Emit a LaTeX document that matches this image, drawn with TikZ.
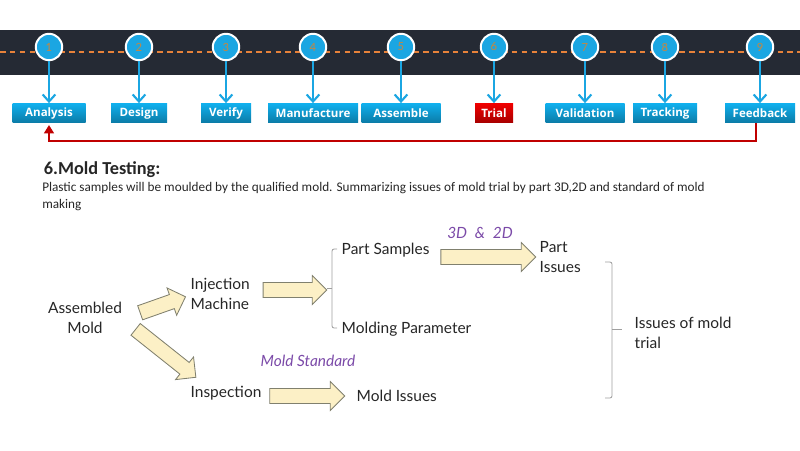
\documentclass[tikz,border=0pt]{standalone}
\usepackage{fontspec}
\setmainfont{Lato}
\newfontfamily\boxfont{Open Sans}
\newfontfamily\bodyfont{Carlito}
\usetikzlibrary{shapes.arrows, arrows.meta, calc, positioning}

\definecolor{bandgray}{HTML}{252A34}
\definecolor{dashorange}{HTML}{E8823A}
\definecolor{stepblue}{HTML}{1BA6E2}
\definecolor{boxblue}{HTML}{10B0EE}
\definecolor{boxred}{HTML}{F00000}
\definecolor{digit}{HTML}{C8873E}
\definecolor{fbred}{HTML}{C00000}
\definecolor{darktext}{HTML}{262626}
\definecolor{notepurple}{HTML}{7B4AA8}
\definecolor{cream}{HTML}{FCF0C6}
\definecolor{arrowline}{HTML}{80806E}

% block arrow from one point to another
\newcommand{\blockarrow}[2]{%
  \path let \p1=(#1), \p2=(#2), \n1={veclen(\x2-\x1,\y2-\y1)} in
    (#1) -- node[bigarrow, sloped, minimum height=\n1] {} (#2);}

\begin{document}
\begin{tikzpicture}[x=0.025cm, y=-0.025cm,
    stepcircle/.style={circle, fill=stepblue, draw=white, line width=1.4pt,
      minimum size=0.66cm, inner sep=0pt, text=digit, font=\fontsize{8}{8}\selectfont},
    stepbox/.style={rectangle, minimum height=0.48cm, inner sep=0pt, text=white,
      font=\boxfont\bfseries\fontsize{8.2}{8.2}\selectfont},
    stepline/.style={draw=stepblue, line width=1.5pt, -{Straight Barb[length=5pt,width=9pt]}},
    feedback/.style={draw=fbred, line width=1.6pt, -{Triangle[length=6pt,width=7pt]}},
    txt/.style={font=\fontsize{11}{14}\selectfont, text=darktext, inner sep=1pt},
    remark/.style={font=\itshape\fontsize{11}{11}\selectfont, text=notepurple},
    brace/.style={draw=gray!75, line width=0.6pt, rounded corners=1.5pt},
    bigarrow/.style={single arrow, draw=arrowline, fill=cream, line width=0.6pt,
      inner sep=0pt, inner ysep=5pt, single arrow head extend=5pt}
]
    \useasboundingbox (0,0) rectangle (800,450);

    % Top band with the process steps
    \fill[bandgray] (0,30) rectangle (800,75);
    \draw[dashorange, line width=1pt, dash pattern=on 4pt off 3pt] (0,52) -- (800,52);

    \foreach \n/\x/\w/\lbl/\col in {1/49/73/Analysis/boxblue, 2/139/56/Design/boxblue,
        3/226/50/Verify/boxblue, 4/313/90/Manufacture/boxblue, 5/401/79/Assemble/boxblue,
        6/494/38/Trial/boxred, 7/585/79/Validation/boxblue, 8/665/64/Tracking/boxblue,
        9/760/70/Feedback/boxblue} {
        \node[stepcircle] (c\n) at (\x,47) {\n};
        \node[stepbox, minimum width=\w*0.025cm, top color=\col, bottom color=\col!70!black]
            (b\n) at (\x,113) {\lbl};
        \draw[stepline] (c\n) -- (b\n);
    }

    % Feedback loop
    \draw[feedback] ([xshift=-3pt]b9.south) -- ++(0,18) -| ([yshift=-1.5pt]b1.south);

    % Heading and description
    \node[anchor=west, text=darktext, font=\bodyfont\bfseries\fontsize{13}{13}\selectfont]
        (title) at (39,170) {6.Mold Testing:};
    \node[anchor=north west, align=left, inner sep=0pt, text=darktext,
        font=\bodyfont\fontsize{9.4}{12}\selectfont] (desc) at (42,182)
        {Plastic samples will be moulded by the qualified mold. Summarizing issues of mold trial by part 3D,2D and standard of mold\\making};

    % Flow of the mold trial
    \node[txt, align=center] (asm) at (85,318) {Assembled\\Mold};
    \node[txt, align=left, anchor=west] (inj) at (189,294) {Injection\\Machine};
    \node[txt, anchor=west] (ps) at (340,250) {Part Samples};
    \node[txt, anchor=west] (mp) at (340,329) {Molding Parameter};
    \node[txt, align=left, anchor=west] (pi) at (538,257) {Part\\Issues};
    \node[txt, align=left, anchor=west] (iot) at (633,333) {Issues of mold\\trial};
    \node[txt, anchor=west] (insp) at (189,393) {Inspection};
    \node[txt, anchor=west] (mi) at (355,396) {Mold Issues};
    \node[remark] (dd) at (480,233) {3D\hspace{5.5pt}\&\hspace{5.5pt}2D};
    \node[remark] (ms) at (308,361) {Mold Standard};

    \blockarrow{$(asm.east)+(13,-4)$}{$(inj.west)+(-7,4)$}
    \blockarrow{$(asm.east)+(9,9)$}{$(insp.west)+(4,-18)$}
    \blockarrow{$(inj.east)+(8,-4)$}{$(inj.east -| ps.west)+(-17,-4)$}
    \blockarrow{$(ps.east)+(6,7)$}{$(pi.west)+(-6,0)$}
    \blockarrow{$(insp.east)+(3,3)$}{$(mi.west)+(-14,0)$}

    % Brackets
    \draw[brace] ($(ps.west)+(-3,-1)$) -- ($(ps.west)+(-8,-1)$)
        -- ($(mp.west)+(-8,-1)$) -- ($(mp.west)+(-3,-1)$);
    \draw[brace] ($(ps.west)!0.5!(mp.west)+(-8,-1)$) -- ++(-5,0);
    \draw[brace] ($(iot.west)+(-28,-71)$) -- ++(7,0) -- ++(0,136) -- ++(-7,0);
    \draw[brace] ($(iot.west)+(-21,-4)$) -- ++(10,0);
\end{tikzpicture}
\end{document}
